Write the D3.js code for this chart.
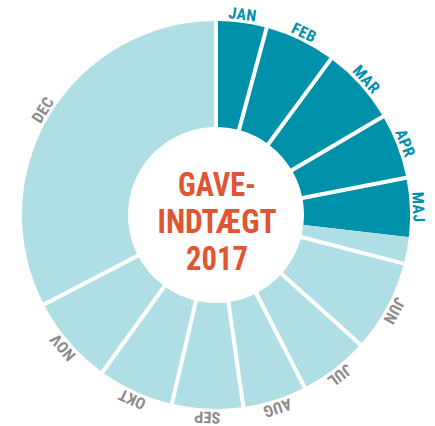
<!DOCTYPE html>
<html>
<head>
<meta charset="utf-8">
<script src="https://cdn.jsdelivr.net/npm/d3@7"></script>
<style>
  body { margin: 0; background: #fff; }
  text { font-family: "Liberation Sans Narrow", "Arial Narrow", "Roboto Condensed", sans-serif; font-weight: bold; }
</style>
</head>
<body>
<div id="chart"></div>
<script>
// share of the year's gift income, in percent
var months = ["JAN", "FEB", "MAR", "APR", "MAJ", "JUN", "JUL", "AUG", "SEP", "OKT", "NOV", "DEC"];
var realised = [4.2, 5.9, 6.4, 5.4, 4.9, 0, 0, 0, 0, 0, 0, 0];
var expected = [0, 0, 0, 0, 2.2, 7.6, 5.8, 5.3, 5.9, 6.3, 7.4, 32.6];
var titleLines = ["GAVE-", "INDTÆGT", "2017"];

var width = 435, height = 426;
var cx = 216, cy = 215, inner = 88, outer = 194;

var dark = "#0091aa", light = "#afdfe4";

var data = months.map(function(m, i) {
    return { month: m, realised: realised[i], expected: expected[i] };
});

var pie = d3.pie().sort(null).value(function(d) { return d.realised + d.expected; });

var arc = d3.arc().innerRadius(inner).outerRadius(outer).padAngle(0.019);
var plain = d3.arc().innerRadius(inner - 2).outerRadius(outer + 2);

var svg = d3.select("#chart").append("svg").attr("width", width).attr("height", height);
var defs = svg.append("defs");
var g = svg.append("g").attr("transform", "translate(" + cx + "," + cy + ")");

var slices = pie(data);

slices.forEach(function(d, i) {
    defs.append("clipPath").attr("id", "clip" + i).append("path").attr("d", arc(d));
    var total = d.data.realised + d.data.expected;
    var split = d.startAngle + (d.endAngle - d.startAngle) * d.data.realised / total;
    var sg = g.append("g").attr("clip-path", "url(#clip" + i + ")");
    if (d.data.realised > 0)
        sg.append("path").attr("d", plain({ startAngle: d.startAngle, endAngle: split })).attr("fill", dark);
    if (d.data.expected > 0)
        sg.append("path").attr("d", plain({ startAngle: split, endAngle: d.endAngle })).attr("fill", light);
    // label sits over the realised part when there is one
    d.labelAngle = d.data.realised > 0 ? (d.startAngle + split) / 2 : (d.startAngle + d.endAngle) / 2;
});

g.selectAll(".label").data(slices).enter().append("text")
    .attr("class", "label")
    .attr("transform", function(d) { return "rotate(" + (d.labelAngle * 180 / Math.PI) + ") translate(0," + (-(outer + 3)) + ")"; })
    .attr("text-anchor", "middle")
    .style("font-size", "16px")
    .style("letter-spacing", "0.3px")
    .attr("fill", function(d) { return d.data.realised > 0 ? dark : "#8c8c8c"; })
    .text(function(d) { return d.data.month; });

var titleWidths = [78, 119, 62];
g.selectAll(".title").data(titleLines).enter().append("text")
    .attr("class", "title")
    .attr("x", 1)
    .attr("y", function(d, i) { return -19 + i * 37; })
    .attr("text-anchor", "middle")
    .attr("textLength", function(d, i) { return titleWidths[i]; })
    .attr("lengthAdjust", "spacingAndGlyphs")
    .style("font-size", "33px")
    .attr("fill", "#e05532")
    .text(function(d) { return d; });
</script>
</body>
</html>
